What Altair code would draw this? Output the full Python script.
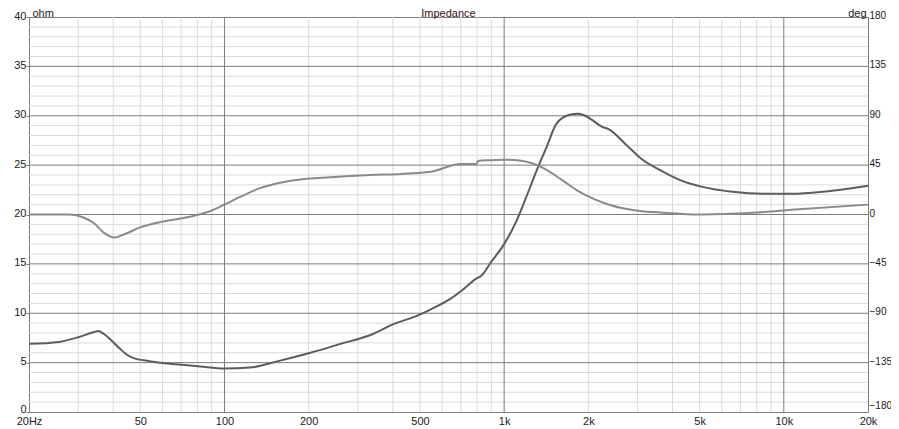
import altair as alt
import pandas as pd

# Impedance curve (ohm)
imp_freq = [20, 25.6, 30.2, 34.2, 35.3, 37.1, 39.6, 42.3, 44.8, 47.9, 54, 69, 82, 100,
            123, 158, 203, 260, 333, 410, 464, 547, 646, 713, 794, 828, 899, 1000,
            1105, 1201, 1304, 1417, 1539, 1714, 1840, 1950, 2056, 2234, 2380, 2746,
            3110, 3668, 4329, 5107, 6547, 8392, 10758, 13785, 16952, 20000]
imp_ohm = [6.9, 7.1, 7.6, 8.1, 8.2, 7.9, 7.2, 6.4, 5.8, 5.4, 5.15, 4.8, 4.6, 4.4,
           4.5, 5.2, 6.0, 6.9, 7.8, 9.0, 9.5, 10.4, 11.5, 12.4, 13.5, 13.8, 15.2, 17.0,
           19.3, 21.8, 24.4, 26.8, 29.2, 30.1, 30.2, 30.0, 29.6, 28.9, 28.6, 27.0,
           25.6, 24.4, 23.4, 22.8, 22.3, 22.1, 22.1, 22.3, 22.6, 22.9]

# Phase curve (deg)
ph_freq = [20, 27.9, 31.5, 34.2, 37.2, 40.4, 43.9, 49.7, 58.6, 75.2, 88.7, 100, 113.7,
           134, 158, 187, 239, 333, 427, 547, 701, 794, 810, 900, 1000, 1152, 1366,
           1600, 1822, 2100, 2390, 3110, 3608, 4329, 5107, 7724, 11683, 20000]
ph_deg = [0, 0, -3, -8, -17, -21, -18, -12, -7, -2, 3, 9, 16,
          24, 29, 32, 34, 36, 37, 39, 46, 46, 49, 49.5, 50, 49, 43,
          32, 22, 14, 8.6, 3, 1.9, 0.5, 0, 1.5, 5, 9]

x_tick_values = [20, 50, 100, 200, 500, 1000, 2000, 5000, 10000, 20000]
x_tick_labels = ["20Hz", "50", "100", "200", "500", "1k", "2k", "5k", "10k", "20k"]
x_minor = [30, 40, 50, 60, 70, 80, 90, 200, 300, 400, 500, 600, 700, 800, 900,
           2000, 3000, 4000, 5000, 6000, 7000, 8000, 9000]
x_major = [100, 1000, 10000]
y_minor = [1, 2, 3, 4, 6, 7, 8, 9, 11, 12, 13, 14, 16, 17, 18, 19, 21, 22, 23, 24,
           26, 27, 28, 29, 31, 32, 33, 34, 36, 37, 38, 39]
y_major = [5, 10, 15, 20, 25, 30, 35]
ohm_ticks = [0, 5, 10, 15, 20, 25, 30, 35, 40]
deg_ticks = [-180, -135, -90, -45, 0, 45, 90, 135, 180]
chart_title = ["Impedance"]

FONT = "Liberation Sans"
TXT = "#1a1a1a"
MINOR = "#dadada"
MAJOR = "#7c7c7c"

label_expr = ""
for v, lab in zip(x_tick_values, x_tick_labels):
    label_expr += f"datum.value == {v} ? '{lab}' : "
label_expr += "''"

xscale = alt.Scale(type="log", domain=[20, 20000], nice=False)
yscale = alt.Scale(domain=[0, 40], nice=False, zero=False)
dscale = alt.Scale(domain=[-180, 180], nice=False, zero=False)

x_axis = alt.Axis(values=x_tick_values, labelExpr=label_expr, ticks=False, tickSize=0,
                  domain=False, grid=False, labelPadding=3, labelFont=FONT,
                  labelFontSize=11, labelColor=TXT, labelFlush=False,
                  labelOverlap=False, title=None)
left_axis = alt.Axis(values=ohm_ticks, title="ohm", titleAngle=0, titleAlign="left",
                     titleBaseline="alphabetic", titleX=3, titleY=-1,
                     titleFont=FONT, titleFontSize=11, titleFontWeight="normal",
                     titleColor=TXT, labelFont=FONT, labelFontSize=11, labelColor=TXT,
                     tickSize=3, tickColor=MAJOR, domain=False, grid=False,
                     labelPadding=0, labelFlush=False, labelOverlap=False,
                     labelOffset={"condition": {"test": "datum.value == 0", "value": -3},
                                  "value": -1})
right_axis = alt.Axis(values=deg_ticks, orient="right", title="deg", titleAngle=0,
                      titleAlign="right", titleBaseline="alphabetic", titleX=-2,
                      titleY=-1, titleFont=FONT, titleFontSize=11,
                      titleFontWeight="normal", titleColor=TXT, labelFont=FONT,
                      labelFontSize=10, labelColor=TXT, ticks=False, tickSize=0,
                      domain=False, grid=False, labelPadding=1, labelFlush=False,
                      labelOverlap=False,
                      labelOffset={"condition": {"test": "datum.value == -180", "value": -7},
                                   "value": -1.5})

vminor = alt.Chart(pd.DataFrame({"f": x_minor})).mark_rule(color=MINOR, strokeWidth=1).encode(
    x=alt.X("f:Q", scale=xscale, axis=x_axis))
vmajor = alt.Chart(pd.DataFrame({"f": x_major})).mark_rule(color=MAJOR, strokeWidth=1).encode(
    x=alt.X("f:Q", scale=xscale, axis=x_axis))
hminor = alt.Chart(pd.DataFrame({"v": y_minor})).mark_rule(color=MINOR, strokeWidth=1).encode(
    y=alt.Y("v:Q", scale=yscale, axis=left_axis))
hmajor = alt.Chart(pd.DataFrame({"v": y_major})).mark_rule(color=MAJOR, strokeWidth=1).encode(
    y=alt.Y("v:Q", scale=yscale, axis=left_axis))

imp = alt.Chart(pd.DataFrame({"f": imp_freq, "ohm": imp_ohm})).mark_line(
    color="#5c5c5c", strokeWidth=2, interpolate="monotone").encode(
    x=alt.X("f:Q", scale=xscale, axis=x_axis),
    y=alt.Y("ohm:Q", scale=yscale, axis=left_axis))

title_txt = alt.Chart(pd.DataFrame({"t": chart_title})).mark_text(
    font=FONT, fontSize=11, baseline="alphabetic", align="center", color="#3a1020").encode(
    text="t:N", x=alt.value(419.5), y=alt.value(-0.5))

ph = alt.Chart(pd.DataFrame({"f": ph_freq, "deg": ph_deg})).mark_line(
    color="#8a8a8a", strokeWidth=2, interpolate="monotone").encode(
    x=alt.X("f:Q", scale=xscale, axis=x_axis),
    y=alt.Y("deg:Q", scale=dscale, axis=right_axis))

base = alt.layer(vminor, hminor, vmajor, hmajor, imp, title_txt)
chart = alt.layer(base, ph).resolve_scale(y="independent").properties(
    width=839, height=395,
    autosize=alt.AutoSizeParams(type="none"),
    padding={"left": 21, "top": 9, "right": 23, "bottom": 14},
    background="white",
).configure_view(stroke=MAJOR, strokeWidth=1)

chart.save("out.html", embed_options={"renderer": "svg", "actions": False})
